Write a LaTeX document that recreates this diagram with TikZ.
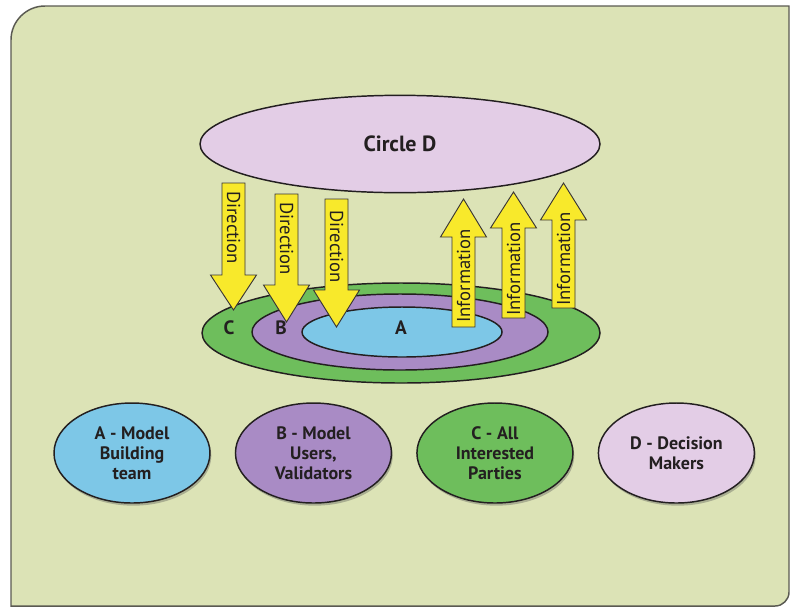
\documentclass[tikz,border=0pt]{standalone}
\usepackage{fontspec}
\setmainfont{PT Sans}
\usetikzlibrary{shapes.geometric, shadows, positioning}
\definecolor{panelgreen}{HTML}{DCE3B6}
\definecolor{frame}{HTML}{5A5A52}
\definecolor{lavender}{HTML}{E3CDE6}
\definecolor{grass}{HTML}{6EBE5C}
\definecolor{ringpurple}{HTML}{A98BC5}
\definecolor{sky}{HTML}{7DC7E7}
\definecolor{signal}{HTML}{F8E92B}
\definecolor{ink}{HTML}{231F20}

\tikzset{
  oval/.style={ellipse, draw=ink, line width=1.1pt, inner sep=0pt},
  ringlabel/.style={font=\fontsize{14.5}{16}\selectfont\bfseries, text=ink, inner sep=0pt},
  keyoval/.style={oval, minimum width=117pt, minimum height=75pt, align=center,
    font=\fontsize{13.5}{15}\selectfont\bfseries, text=ink,
    drop shadow={shadow xshift=1pt, shadow yshift=-2pt, opacity=0.35, fill=black!70}},
  arrowbody/.style={draw=ink!90, line width=0.7pt, fill=signal, line join=miter},
  arrowtext/.style={font=\fontsize{14}{16}\selectfont, text=ink, inner sep=0pt}
}

% block arrow: x, tail, head base, tip
\newcommand{\blockarrow}[4]{%
  \draw[arrowbody] ({#1-11.5},#2) -- ({#1+11.5},#2) -- ({#1+11.5},#3) -- ({#1+23},#3)
    -- (#1,#4) -- ({#1-23},#3) -- ({#1-11.5},#3) -- cycle;}

\begin{document}
\begin{tikzpicture}[x=0.75pt, y=-0.75pt]
  \useasboundingbox (0,0) rectangle (791,608);
  % Panel
  \draw[fill=panelgreen, draw=frame, line width=1.1pt]
    (11,606) -- (11,40) arc[start angle=180, end angle=270, radius=34]
    -- (789,6) -- (789,592) arc[start angle=0, end angle=90, radius=14] -- cycle;
  % Circle D
  \node[oval, fill=lavender, minimum width=300pt, minimum height=73pt,
        font=\fontsize{16.5}{18}\selectfont\bfseries, text=ink] (circD) at (400,144) {Circle D};
  % Nested rings
  \node[oval, fill=grass, minimum width=298.5pt, minimum height=75pt] (ringC) at (401,333) {};
  \node[oval, fill=ringpurple, minimum width=222pt, minimum height=57pt] (ringB) at (400,332) {};
  \node[oval, fill=sky, minimum width=150pt, minimum height=37.5pt] (ringA) at (402,332) {};
  \node[ringlabel] (labC) at (229,328) {C};
  \node[ringlabel] (labB) at (281,328) {B};
  \node[ringlabel] (labA) at (401,328) {A};
  % Direction arrows
  \blockarrow{233.5}{183}{275}{310}
  \blockarrow{286.5}{194}{285}{322}
  \blockarrow{336.5}{199}{290}{327}
  \node[arrowtext, rotate=-90, anchor=west] (dir1) at (233.5,191) {Direction};
  \node[arrowtext, rotate=-90, anchor=west] (dir2) at (286.5,202) {Direction};
  \node[arrowtext, rotate=-90, anchor=west] (dir3) at (336.5,210) {Direction};
  % Information arrows
  \blockarrow{463.5}{327}{237}{199}
  \blockarrow{513.5}{318}{228}{192}
  \blockarrow{563.5}{308}{220}{183}
  \node[arrowtext, rotate=90, anchor=west] (info1) at (463.5,323) {Information};
  \node[arrowtext, rotate=90, anchor=west] (info2) at (513.5,316) {Information};
  \node[arrowtext, rotate=90, anchor=west] (info3) at (563.5,306) {Information};
  % Key
  \node[keyoval, fill=sky] (keyA) at (132,453) {A - Model\\Building\\team};
  \node[keyoval, fill=ringpurple, right=18pt of keyA] (keyB) {B - Model\\Users,\\Validators};
  \node[keyoval, fill=grass, right=18pt of keyB] (keyC) {C - All\\Interested\\Parties};
  \node[keyoval, fill=lavender, right=18pt of keyC] (keyD) {D - Decision\\Makers};
\end{tikzpicture}
\end{document}
